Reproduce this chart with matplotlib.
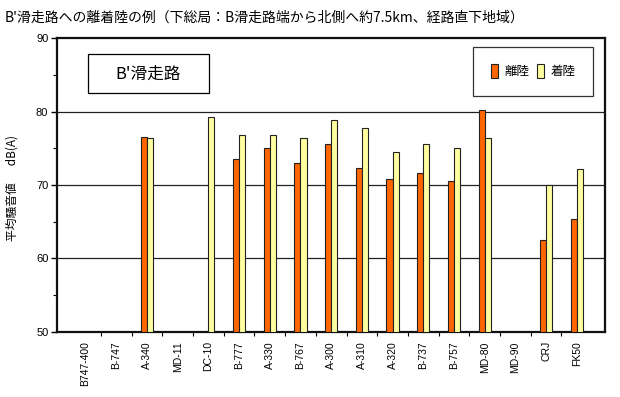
import matplotlib
matplotlib.use("Agg")
import matplotlib.pyplot as plt
import numpy as np
from matplotlib.patches import Rectangle

categories = ["B747-400", "B-747", "A-340", "MD-11", "DC-10", "B-777", "A-330", "B-767",
              "A-300", "A-310", "A-320", "B-737", "B-757", "MD-80", "MD-90", "CRJ", "FK50"]
takeoff = [np.nan, np.nan, 76.6, np.nan, np.nan, 73.6, 75.0, 72.95, 75.6, 72.3, 70.8, 71.6,
           70.5, 80.2, np.nan, 62.5, 65.4]
landing = [np.nan, np.nan, 76.45, np.nan, 79.3, 76.85, 76.85, 76.4, 78.85, 77.8, 74.45, 75.6,
           75.0, 76.35, np.nan, 70.05, 72.2]
series_names = ["離陸", "着陸"]
yticks = [50, 60, 70, 80, 90]

title = "B'滑走路への離着陸の例（下総局：B滑走路端から北側へ約7.5km、経路直下地域）"
ylabel = "平均騒音値　  dB(A)"
boxtext = "B'滑走路"

CJK = ["Noto Sans CJK JP", "DejaVu Sans"]
LAT = ["Liberation Sans", "DejaVu Sans"]

fig = plt.figure(figsize=(6.2, 3.97), dpi=100)
ax = fig.add_axes([56.7 / 620, 1 - 331.5 / 397, (605 - 56.7) / 620, (331.5 - 38.3) / 397])

x = np.arange(len(categories))
w = 0.2
bottom = yticks[0]
t = np.array(takeoff)
l = np.array(landing)
mt = ~np.isnan(t)
ml = ~np.isnan(l)
b1 = ax.bar(x[mt] - w / 2, t[mt] - bottom, w, bottom=bottom, color="#FF6600",
            edgecolor="#222222", linewidth=0.8, label=series_names[0], zorder=3)
b2 = ax.bar(x[ml] + w / 2, l[ml] - bottom, w, bottom=bottom, color="#FFFFA0",
            edgecolor="#222222", linewidth=0.8, label=series_names[1], zorder=3)

ax.set_ylim(50, 90)
ax.set_xlim(-0.94, 16.92)
ax.set_yticks(yticks)
ax.set_yticks([55, 65, 75, 85], minor=True)
ax.set_yticklabels([str(v) for v in yticks], fontsize=8, family=LAT)
ax.tick_params(axis="y", which="major", direction="out", length=4, width=1, pad=2)
ax.tick_params(axis="y", which="minor", direction="out", length=3, width=0.8)

ax.set_xticks(x)
ax.set_xticklabels(categories, rotation=90, fontsize=7.5, family=LAT, va="top")
ax.set_xticks(x[:-1] + 0.5, minor=True)
ax.tick_params(axis="x", which="major", length=0, pad=7)
ax.tick_params(axis="x", which="minor", direction="out", length=3, width=0.8)

for v in [60, 70, 80]:
    ax.axhline(v, color="#222222", linewidth=0.9, zorder=1)

for s in ax.spines.values():
    s.set_linewidth(1.6)
    s.set_color("#111111")

ax.set_ylabel(ylabel, fontsize=8.5, family=CJK)
ax.yaxis.set_label_coords(-0.07, 0.49)

fig.text(5 / 620, 1 - 18 / 397, title, fontsize=10, family=CJK, ha="left", va="center")

# inset box
fig.patches.append(Rectangle((88 / 620, 1 - 93 / 397), (209 - 88) / 620, (93 - 54) / 397,
                             transform=fig.transFigure, fill=True, facecolor="white",
                             edgecolor="black", linewidth=0.9, zorder=5))
fig.text(148 / 620, 1 - 74 / 397, boxtext, fontsize=12, family=CJK, ha="center", va="center", zorder=6)

leg = ax.legend(handles=[b1, b2], ncol=2, loc="upper right",
                bbox_to_anchor=(593 / 620, 1 - 46.7 / 397), bbox_transform=fig.transFigure,
                prop={"family": CJK, "size": 9}, frameon=True, fancybox=False,
                edgecolor="black", borderpad=1.4, handlelength=0.6, handleheight=1.3,
                handletextpad=0.5, columnspacing=0.6, borderaxespad=0)
leg.get_frame().set_linewidth(0.9)

fig.savefig("out.png", dpi=100)
